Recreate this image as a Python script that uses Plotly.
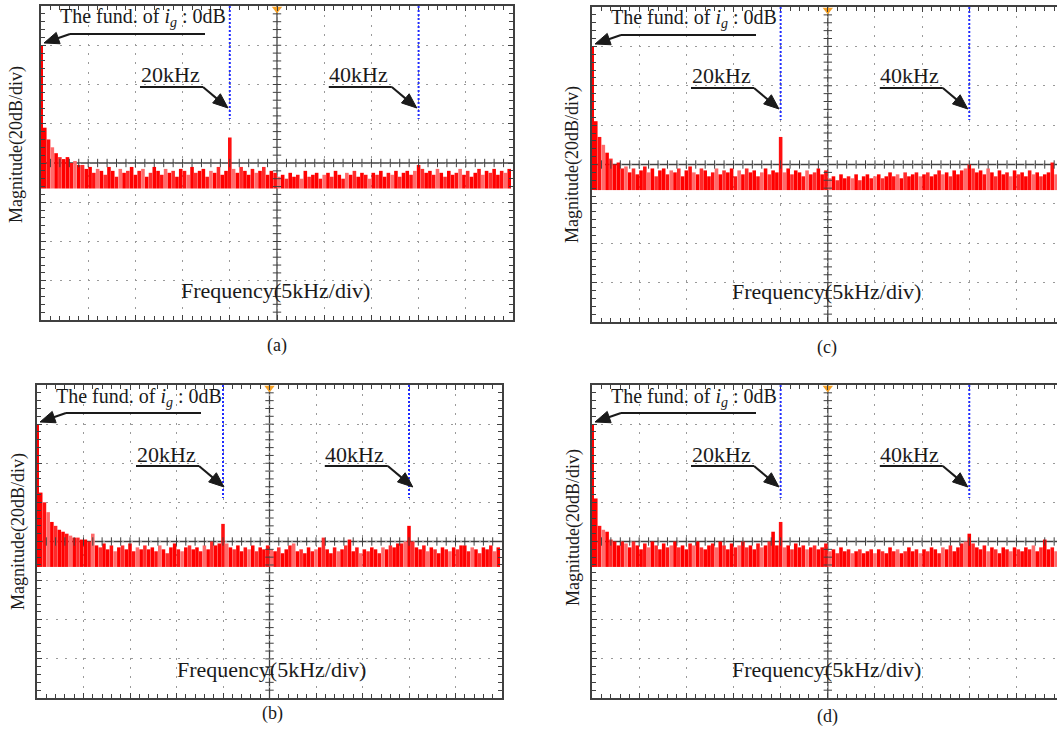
import math
import plotly.graph_objects as go

FIG_W, FIG_H = 1057, 741

# ---------------- data ----------------
freq_step_khz = 0.4
n_bins = 124
freqs_khz = [round(freq_step_khz * (k + 1), 2) for k in range(n_bins)]
fund_freq_khz = 0.12
fund_db = 0
floor_db = -73

mag_a = [-42, -48, -52, -55, -57, -58, -57, -60, -59, -61, -61, -63,
         -62, -65, -63, -64, -66, -62, -64, -67, -63, -65, -64, -62, -66,
         -64, -63, -67, -65, -62, -64, -66, -63, -65, -64, -67, -63, -64,
         -66, -62, -65, -64, -63, -67, -64, -65, -62, -66, -64,
         -47,
         -63, -65, -62, -64, -66, -63, -65, -64, -62, -66, -64, -65,
         -67, -66, -68, -65, -67, -66, -68, -64, -67, -66, -65, -68, -66,
         -65, -67, -64, -66, -68, -65, -66, -64, -67, -65, -66, -68, -65,
         -66, -64, -67, -65, -66, -64, -67, -65, -64, -66, -64,
         -61,
         -63, -65, -64, -66, -63, -65, -67, -64, -66, -65, -63, -66,
         -64, -67, -65, -63, -66, -64, -65, -63, -66, -64, -65, -63]

mag_b = [-35, -40, -45, -50, -52, -54, -55, -56, -57, -58, -58, -59, -59, -60, -56, -62,
         -63, -61, -64, -62, -65, -63, -62, -64, -61, -65, -63, -64, -62,
         -64, -63, -65, -62, -64, -66, -63, -61, -64, -65, -63, -62, -64,
         -63, -65, -62, -64, -60, -62, -61,
         -51,
         -61, -63, -64, -62, -65, -63, -64, -62, -65, -63, -64, -62,
         -64, -65, -63, -66, -64, -62, -61, -65, -64, -66, -63, -65, -64,
         -63, -58, -64, -66, -63, -65, -64, -62, -59, -65, -63, -66, -64,
         -65, -63, -64, -66, -63, -64, -62, -63, -61, -61, -60,
         -52,
         -60, -63, -64, -62, -65, -63, -64, -66, -63, -64, -65, -63,
         -64, -62, -62, -65, -63, -64, -66, -63, -64, -62, -65, -63]

mag_c = [-38, -46, -50, -54, -57, -60, -59, -62,
         -61, -64, -62, -65, -63, -61, -64, -62, -66, -63, -62, -65, -63,
         -64, -62, -66, -63, -61, -64, -65, -62, -63, -66, -64, -62, -65,
         -63, -64, -62, -66, -63, -65, -62, -64, -63, -66, -64, -62, -65, -63, -64,
         -46,
         -64, -62, -65, -63, -64, -66, -63, -65, -64, -62, -65, -63,
         -67, -66, -68, -65, -67, -66, -67, -65, -68, -66, -65, -67, -66,
         -65, -67, -66, -64, -66, -65, -67, -64, -66, -65, -64, -66, -65,
         -64, -66, -65, -63, -65, -64, -66, -63, -65, -63, -62,
         -60,
         -62, -64, -63, -65, -62, -64, -66, -63, -65, -64, -66, -63,
         -65, -64, -66, -63, -65, -64, -66, -65, -64, -59, -65, -63]

mag_d = [-38, -52, -54, -55, -59, -60, -62, -60,
         -61, -63, -60, -62, -64, -61, -63, -60, -62, -64, -61, -63, -62,
         -60, -63, -62, -64, -61, -62, -60, -63, -64, -62, -61, -63, -60,
         -62, -64, -61, -63, -62, -60, -63, -62, -64, -61, -63, -62, -60, -55, -62,
         -50,
         -63, -62, -64, -61, -63, -62, -64, -63, -62, -64, -63, -61,
         -65, -64, -66, -63, -65, -64, -66, -65, -64, -66, -65, -64, -66,
         -64, -65, -66, -63, -65, -64, -66, -65, -63, -65, -64, -66, -64,
         -65, -63, -64, -66, -63, -64, -62, -65, -63, -61, -60,
         -56,
         -61, -63, -64, -62, -65, -63, -64, -66, -63, -64, -65, -63,
         -64, -65, -63, -64, -62, -65, -63, -59, -64, -63, -65, -64]

marker_freqs_khz = [20, 40]
marker_labels = ["20kHz", "40kHz"]
fund_label = "The fund. of <i>i</i><sub><i>g</i></sub> : 0dB"
x_label = "Frequency(5kHz/div)"
y_label = "Magnitude(20dB/div)"
captions = ["(a)", "(b)", "(c)", "(d)"]

# ---------------- layout geometry (pixels) ----------------
panels = [
    dict(vals=mag_a, box=(41, 6, 513, 320), xmax=50.0, mirror_y=True,
         cap=(277, 345), ylab=(17, 145)),
    dict(vals=mag_b, box=(37, 385, 502, 698), xmax=50.0, mirror_y=True,
         cap=(272, 713), ylab=(18, 532)),
    dict(vals=mag_c, box=(592, 7, 1057, 322), xmax=49.3, mirror_y=False,
         cap=(827, 347), ylab=(572, 165)),
    dict(vals=mag_d, box=(592, 385, 1057, 698), xmax=49.3, mirror_y=False,
         cap=(827, 716), ylab=(573, 528)),
]

Y_TOP, Y_BOT = 20, -140
SERIF = "Liberation Serif, Times New Roman, serif"
FRAME = "#404040"
GRID = "#9a9a9a"
TXT = "#1a1a1a"
bar_palette = ["#ff0000", "#ff1010", "#ff6a6a", "#ff0000", "#ff2a2a", "#ff0000"]

fig = go.Figure()
annotations = []
shapes = []

for i, p in enumerate(panels):
    L, T, R, B = p["box"]
    wpx, hpx = R - L, B - T
    sfx = "" if i == 0 else str(i + 1)
    xa, ya = "x" + sfx, "y" + sfx

    def D(dx, dy, p=p, wpx=wpx, hpx=hpx):
        return dx * p["xmax"] / wpx, Y_TOP - dy * (Y_TOP - Y_BOT) / hpx

    def arrow(tail, tip, head_len=15.0, half_w=6.0, D=D, xa=xa, ya=ya):
        # line from tail to head base + filled triangular head (pixel offsets in panel)
        ux, uy = tip[0] - tail[0], tip[1] - tail[1]
        n = math.hypot(ux, uy)
        ux, uy = ux / n, uy / n
        bx, by = tip[0] - head_len * ux, tip[1] - head_len * uy
        c1 = (bx - half_w * uy, by + half_w * ux)
        c2 = (bx + half_w * uy, by - half_w * ux)
        s0, s1 = D(*tail), D(bx + 2 * ux, by + 2 * uy)
        shapes.append(dict(type="line", xref=xa, yref=ya, x0=s0[0], y0=s0[1], x1=s1[0], y1=s1[1],
                           line=dict(color=TXT, width=2)))
        pts = [D(*tip), D(*c1), D(*c2)]
        path = "M {} {} L {} {} L {} {} Z".format(pts[0][0], pts[0][1], pts[1][0], pts[1][1],
                                                  pts[2][0], pts[2][1])
        shapes.append(dict(type="path", xref=xa, yref=ya, path=path, fillcolor=TXT,
                           line=dict(color=TXT, width=1)))

    fig.update_layout(**{
        "xaxis" + sfx: dict(
            domain=[L / FIG_W, R / FIG_W], range=[0, p["xmax"]], anchor=ya,
            showgrid=True, gridcolor=GRID, griddash="2px,7.4px", gridwidth=1.3,
            tick0=0, dtick=5, ticks="inside", ticklen=5, tickcolor=FRAME,
            minor=dict(dtick=1, ticks="inside", ticklen=4, tickcolor=FRAME, showgrid=False),
            showline=True, linecolor=FRAME, linewidth=2, mirror="allticks",
            showticklabels=False, zeroline=False, fixedrange=True),
        "yaxis" + sfx: dict(
            domain=[1 - B / FIG_H, 1 - T / FIG_H], range=[Y_BOT, Y_TOP], anchor=xa,
            showgrid=True, gridcolor=GRID, griddash="2px,7.4px", gridwidth=1.3,
            tick0=Y_TOP, dtick=20, ticks="inside", ticklen=5, tickcolor=FRAME,
            minor=dict(dtick=4, ticks="inside", ticklen=4, tickcolor=FRAME, showgrid=False),
            showline=True, linecolor=FRAME, linewidth=2,
            mirror="allticks" if p["mirror_y"] else False,
            showticklabels=False, zeroline=False, fixedrange=True),
    })

    # centre cross
    shapes.append(dict(type="line", xref=xa, yref=ya, x0=25, x1=25, y0=Y_BOT, y1=Y_TOP,
                       line=dict(color=FRAME, width=1.3), layer="below"))
    shapes.append(dict(type="line", xref=xa, yref=ya, x0=0, x1=p["xmax"], y0=-60, y1=-60,
                       line=dict(color=FRAME, width=1.3), layer="below"))
    cx = [k for k in range(1, 50) if k != 25 and k <= p["xmax"]]
    fig.add_trace(go.Scatter(x=cx, y=[-60] * len(cx), xaxis=xa, yaxis=ya, mode="markers",
                             marker=dict(symbol="line-ns", size=6, line=dict(width=1, color=FRAME)),
                             hoverinfo="skip", showlegend=False))
    cy = [v for v in range(Y_BOT + 4, Y_TOP, 4) if v != -60]
    fig.add_trace(go.Scatter(x=[25] * len(cy), y=cy, xaxis=xa, yaxis=ya, mode="markers",
                             marker=dict(symbol="line-ew", size=6, line=dict(width=1, color=FRAME)),
                             hoverinfo="skip", showlegend=False))

    # spectrum bars
    vals = p["vals"]
    fig.add_trace(go.Bar(x=freqs_khz, y=[v - floor_db for v in vals], base=floor_db,
                         width=0.38, xaxis=xa, yaxis=ya,
                         marker=dict(color=[bar_palette[j % len(bar_palette)] for j in range(len(vals))],
                                     line=dict(width=0)),
                         hoverinfo="skip", showlegend=False))
    fig.add_trace(go.Bar(x=[fund_freq_khz], y=[fund_db - floor_db], base=floor_db, width=0.18,
                         xaxis=xa, yaxis=ya, marker=dict(color="#ff0000", line=dict(width=0)),
                         hoverinfo="skip", showlegend=False))

    # orange trigger marker at top centre
    fig.add_trace(go.Scatter(x=[25], y=[D(0, 3)[1]], xaxis=xa, yaxis=ya, mode="markers",
                             marker=dict(symbol="triangle-down", size=9, color="#f5a025"),
                             cliponaxis=False, hoverinfo="skip", showlegend=False))

    # blue dotted marker lines
    for f in marker_freqs_khz:
        shapes.append(dict(type="line", xref=xa, yref=ya, x0=f, x1=f,
                           y0=Y_TOP, y1=D(0, 113)[1],
                           line=dict(color="#1f2bff", width=2, dash="2px,2px")))

    # fundamental label
    x0, y0 = D(17, 12)
    annotations.append(dict(xref=xa, yref=ya, x=x0, y=y0, text=fund_label, showarrow=False,
                            xanchor="left", yanchor="middle",
                            font=dict(family=SERIF, size=20, color=TXT)))
    a0, b0 = D(29, 28)
    a1, b1 = D(164, 28)
    shapes.append(dict(type="line", xref=xa, yref=ya, x0=a0, y0=b0, x1=a1, y1=b1,
                       line=dict(color=TXT, width=2)))
    arrow((29, 28), (3, 37))

    # 20kHz / 40kHz labels with arrows
    for k, lab in enumerate(marker_labels):
        off = k * 188.8
        lx, ly = D(129 + off, 69)
        annotations.append(dict(xref=xa, yref=ya, x=lx, y=ly, text=lab, showarrow=False,
                                xanchor="center", yanchor="middle",
                                font=dict(family=SERIF, size=22, color=TXT)))
        u0x, u0y = D(99 + off, 81)
        u1x, u1y = D(162 + off, 81)
        shapes.append(dict(type="line", xref=xa, yref=ya, x0=u0x, y0=u0y, x1=u1x, y1=u1y,
                           line=dict(color=TXT, width=2)))
        arrow((162 + off, 81), (187 + off, 102))

    # axis texts
    fx, fy = D(234, 284)
    annotations.append(dict(xref=xa, yref=ya, x=fx, y=fy, text=x_label, showarrow=False,
                            xanchor="center", yanchor="middle",
                            font=dict(family=SERIF, size=22, color=TXT)))
    annotations.append(dict(xref="paper", yref="paper", x=p["ylab"][0] / FIG_W,
                            y=1 - p["ylab"][1] / FIG_H, text=y_label, textangle=-90,
                            showarrow=False, xanchor="center", yanchor="middle",
                            font=dict(family=SERIF, size=18, color=TXT)))
    annotations.append(dict(xref="paper", yref="paper", x=p["cap"][0] / FIG_W,
                            y=1 - p["cap"][1] / FIG_H, text=captions[i], showarrow=False,
                            xanchor="center", yanchor="middle",
                            font=dict(family=SERIF, size=18, color=TXT)))

fig.update_layout(width=FIG_W, height=FIG_H, margin=dict(l=0, r=0, t=0, b=0),
                  paper_bgcolor="white", plot_bgcolor="white", barmode="overlay",
                  showlegend=False, annotations=annotations, shapes=shapes)

fig.write_html("out.html", config={"displayModeBar": False},
               post_script="document.body.style.margin='0';document.body.style.overflow='hidden';")
